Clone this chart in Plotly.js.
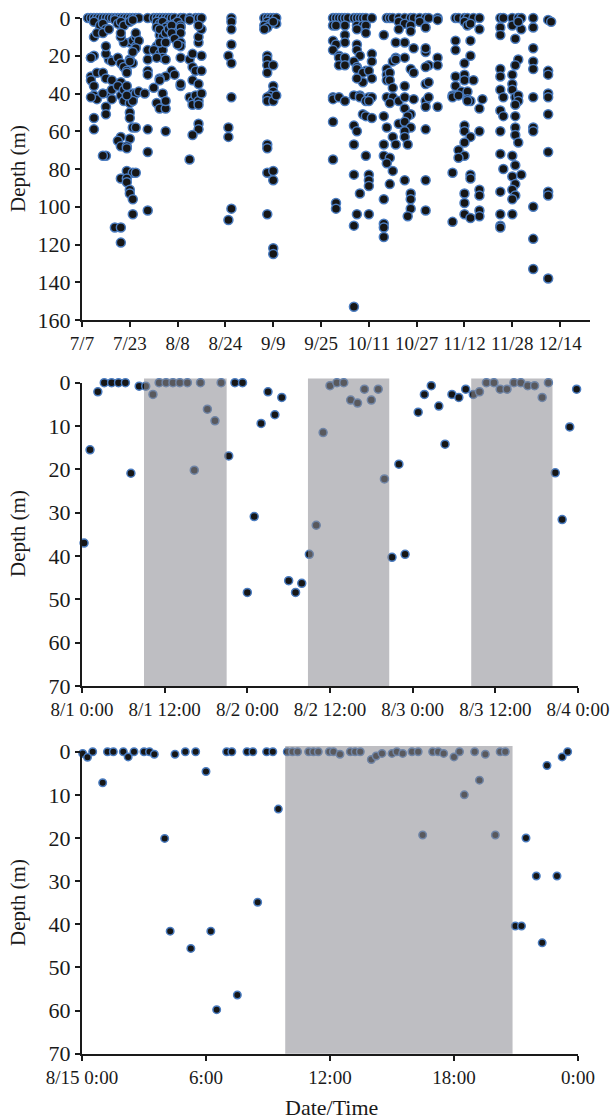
<!DOCTYPE html>
<html><head><meta charset="utf-8">
<script src="https://cdn.plot.ly/plotly-3.0.1.min.js"></script>
<style>html,body{margin:0;padding:0;background:#fff}#chart{width:610px;height:1120px}</style>
</head><body><div id="chart"></div>
<script>
const YEAR = '2013-';

// ---------- Panel 1: long-term depth record (dates MM-DD, depth m) ----------
const julDates = ['07-09','07-10','07-11','07-12','07-13','07-14','07-15','07-16','07-17','07-18','07-19','07-20','07-21','07-22','07-23','07-24','07-25','07-26','07-29',
 '07-11','07-13','07-14','07-15','07-18','07-19','07-20','07-21','07-23','07-24',
 '07-11','07-12','07-11','07-10','07-10','07-10','07-10','07-12','07-11','07-11','07-12','07-10','07-15','07-15','07-11','07-11','07-14','07-15','07-17','07-16','07-15','07-15','07-14','07-16','07-17','07-16','07-14','07-17','07-17','07-20','07-19','07-20','07-21','07-19','07-20','07-21','07-22','07-22','07-22','07-24','07-24','07-23','07-24','07-22','07-22','07-23','07-23','07-24','07-25','07-25','07-25','07-26','07-25','07-24','07-21','07-20','07-20','07-25','07-26','07-28','07-29','07-29','07-29','07-29','07-23','07-23','07-24','07-25','07-23','07-29','07-20','07-19','07-20','07-22','07-22','07-15','07-14','07-29','07-22','07-24','07-25','07-20','07-22','07-22','07-23','07-23','07-24','07-24','07-29','07-18','07-20','07-20','07-21','07-23','07-24','07-22'];
const julDepths = [0,0,0,0,0,0,0,0,0,0,0,0,0,0,0,0,0,0,0,
 2,4,3,6,1,3,2,4,2,1,
 10,8,20,21,21,31,33,29,36,41,43,42,47,51,53,59,29,32,33,22,19,15,8,6,23,40,40,43,38,34,21,24,26,36,41,38,42,36,43,40,43,22,24,28,29,23,13,12,10,15,8,12,16,18,13,10,8,40,39,40,17,22,28,30,50,53,58,58,64,59,63,65,68,68,69,73,73,71,81,82,82,85,85,87,91,93,96,104,102,111,111,119,44,45,44,41];

const augDates = ['07-31','08-01','08-02','08-03','08-04','08-05','08-06','08-07','08-09','08-10','08-12','08-14','08-15','08-16',
 '08-01','08-02','08-03','08-05','08-07','08-08','08-04','08-09',
 '08-01','08-02','08-02','08-03','08-04','08-05','08-06','08-07','08-09','08-09','08-01','07-31','08-02','08-03','08-03','08-04','08-01','08-02','08-04','08-06','08-07','08-09','08-09','08-08','08-06','08-07','08-04','08-02','08-02','07-31','08-03','08-01','08-02','08-04','08-04','08-09','08-09','08-09','08-04',
 '08-12','08-13','08-13','08-13','08-14','08-16','08-15','08-16','08-15','08-15','08-16','08-15','08-12','08-12','08-13','08-13','08-14','08-15','08-16','08-15','08-15','08-15','08-13','08-12'];
const augDepths = [0,0,0,0,0,0,0,0,0,0,0,0,0,0,
 2,3,2,4,3,2,5,4,
 5,9,6,10,8,6,4,8,5,8,15,17,19,17,21,22,21,13,13,8,11,13,15,14,28,30,31,32,33,37,40,45,48,48,44,36,35,21,60,
 22,19,26,33,28,28,35,20,13,10,6,4,1,42,44,46,41,44,40,46,56,59,62,75];

const sepDates = ['08-26','08-26','08-26','08-26','08-25','08-26','08-26','08-25','08-25','08-25','08-26',
 '09-06','09-07','09-08','09-09','09-10','09-07','09-08','09-06','09-07','09-10','09-09','09-06','09-07','09-07','09-07','09-09','09-07','09-09','09-09','09-08','09-07','09-07','09-09','09-10','09-07','09-07','09-07','09-09','09-09','09-07','09-09','09-09'];
const sepDepths = [0,2,6,14,20,24,42,58,63,107,101,
 0,0,0,0,0,2,3,4,5,3,2,6,20,22,25,25,29,36,39,41,42,44,44,41,67,69,82,81,86,104,122,125];

const octDates = ['09-29','09-30','10-01','10-02','10-03','10-04','10-06','10-07','10-08','10-09','10-10','10-12',
 '09-29','09-30','10-03','10-07','10-09','10-10','10-07','10-10','10-03','10-03','09-29','09-30','09-29','10-07','10-07','10-08','10-12','10-12','10-01','10-01','10-03','10-01','10-03','10-06','10-07','10-07','10-10','10-09','10-11','10-12','10-09','10-07','09-29','09-29','10-01','10-03','10-06','10-08','10-08','10-11','10-10','10-12','10-11','10-09','10-10','10-12','10-06','10-07','09-29','10-10','10-06','09-29','10-06','10-11',
 '09-30','09-30','10-06','10-07','10-06','10-08','10-11','10-11','10-11',
 '10-17','10-18','10-19','10-21','10-23','10-25','10-26','10-28','10-30','10-31','11-03',
 '10-21','10-23','10-25','10-28','10-30','11-03','10-21','10-25',
 '10-16','10-20','10-23','10-26','10-30','10-30','11-03','11-03','10-31','10-30','10-20','10-19','10-20','10-23','10-17','10-17','10-17','10-18','10-18','10-25','10-26','10-30','10-31','10-23','10-19','10-17','10-19','10-18','10-21','10-23','10-26','10-30','10-31','10-30','10-23','10-25','10-24','10-16','10-21','10-23','10-17','10-25','10-23','10-30','10-19','10-23','10-16','10-20','10-24','10-16','10-18','10-17','10-19','11-03',
 '10-16','10-18','10-16','10-16','10-16','10-23','10-25','10-25','10-25','10-24','10-30','10-30'];
const octDepths = [0,0,0,0,0,0,0,0,0,0,0,0,
 4,4,4,4,4,4,6,8,9,13,12,14,17,14,17,20,19,23,20,21,21,25,25,23,26,27,28,29,28,32,34,32,42,43,42,44,41,41,42,42,44,42,44,51,52,53,57,60,55,73,67,75,83,83,
 98,101,110,104,153,93,86,89,104,
 0,0,0,0,0,0,0,0,0,0,0,
 2,3,4,2,5,1,6,7,
 9,13,13,16,18,16,21,25,25,26,21,23,22,21,27,30,33,29,33,27,29,35,34,36,37,42,42,45,44,42,43,44,42,47,48,51,52,52,56,55,58,58,60,59,63,63,67,67,67,73,74,77,81,47,
 96,88,109,111,116,86,93,96,101,105,86,102];

const novDates = ['11-09','11-10','11-12','11-13','11-15','11-17',
 '11-12','11-13','11-17','11-14',
 '11-09','11-14','11-09','11-14','11-12','11-09','11-12','11-12','11-15','11-09','11-08','11-11','11-13','11-08','11-10','11-13','11-14','11-13','11-18','11-17','11-12','11-12','11-17','11-14','11-12','11-10','11-12','11-10','11-08','11-14',
 '11-08','11-12','11-12','11-12','11-14','11-14','11-17','11-17','11-17','11-17',
 '11-24','11-25','11-28','11-30','12-01','12-05',
 '11-24','11-28','12-01','12-05','11-30',
 '11-24','11-29','12-05','12-05','12-05','11-30','11-29','11-24','11-24','11-28','11-28','11-24','11-28','11-29','11-30','11-30','11-29','11-25','12-05','12-10','12-10','12-10','12-10','12-10','12-11','11-24','11-25','11-29','11-29','11-24','11-29','12-05','12-05','11-30','12-10','11-24','11-28','12-10','11-25','11-29','11-28','12-01',
 '11-24','11-24','11-24','11-24','11-29','11-28','11-29','11-28','11-28','12-05','12-05','12-05','12-10','12-10','12-10'];
const novDepths = [0,0,0,0,0,0,
 2,4,6,3,
 12,12,17,20,24,31,30,33,33,36,41,39,39,42,41,43,44,44,43,48,57,60,60,63,66,70,73,74,82,83,
 108,93,98,104,85,106,91,94,102,105,
 0,0,0,0,0,0,
 5,4,6,5,2,
 9,11,16,23,27,22,25,27,31,30,35,38,38,42,41,44,46,42,42,40,42,28,30,1,2,49,52,52,58,60,62,58,60,66,51,72,73,71,80,78,84,83,
 92,104,110,111,88,91,94,96,104,100,117,133,92,94,138];

// ---------- Panel 2: 1-4 August (time, depth m) ----------
const p2Times = ['08-01 00:18','08-01 01:10','08-01 02:18','08-01 03:14','08-01 04:18','08-01 05:18','08-01 06:18','08-01 07:06','08-01 08:18','08-01 09:15','08-01 10:18','08-01 11:12','08-01 12:12','08-01 13:12','08-01 14:12','08-01 15:18','08-01 16:18','08-01 17:12','08-01 18:12','08-01 19:18','08-01 20:12','08-01 21:18','08-01 22:12','08-01 23:18',
 '08-02 00:00','08-02 01:00','08-02 02:00','08-02 03:00','08-02 04:00','08-02 05:00','08-02 06:00','08-02 07:00','08-02 07:54','08-02 09:00','08-02 10:00','08-02 11:00','08-02 12:00','08-02 13:00','08-02 14:00','08-02 15:00','08-02 16:00','08-02 17:00','08-02 18:00','08-02 19:00','08-02 19:54','08-02 21:00','08-02 22:00','08-02 22:54',
 '08-03 00:48','08-03 01:42','08-03 02:42','08-03 03:48','08-03 04:42','08-03 05:42','08-03 06:42','08-03 07:42','08-03 08:48','08-03 09:42','08-03 10:42','08-03 11:48','08-03 12:42','08-03 13:42','08-03 14:42','08-03 15:42','08-03 16:42','08-03 17:42','08-03 18:48','08-03 19:42','08-03 20:42','08-03 21:42','08-03 22:48','08-03 23:48'];
const p2Depths = [37,15.5,2.1,0,0,0,0,20.9,0.8,0.8,2.7,0,0,0,0,0,20.2,0,6.1,8.8,0,16.9,0,0,
 48.4,30.9,9.4,2.1,7.4,3.4,45.7,48.4,46.3,39.6,32.9,11.5,0.7,0,0,4.0,4.7,1.5,4.0,1.5,22.2,40.3,18.8,39.6,
 6.8,2.7,0.7,5.4,14.2,2.7,3.4,1.5,2.7,2.1,0,0,1.5,1.5,0,0,0.7,0.7,3.4,0,20.8,31.6,10.2,1.5];
const p2NightStart = ['08-01 09:00','08-02 08:48','08-03 08:30'];
const p2NightEnd   = ['08-01 21:00','08-02 20:36','08-03 20:18'];
const p2TickVals = ['08-01 00:00','08-01 12:00','08-02 00:00','08-02 12:00','08-03 00:00','08-03 12:00','08-04 00:00'];
const p2TickText = ['8/1 0:00','8/1 12:00','8/2 0:00','8/2 12:00','8/3 0:00','8/3 12:00','8/4 0:00'];

// ---------- Panel 3: 15 August (time, depth m) ----------
const p3Times = ['00:02','00:16','00:31','01:00','01:14','01:31','02:00','02:14','02:31','03:00','03:16','03:30','04:00','04:16','04:30','05:00','05:16','05:30','06:00','06:14','06:31','07:00','07:15','07:31','07:59','08:16','08:30','08:56','09:14','09:30',
 '09:56','10:11','10:26','10:58','11:12','11:26','11:58','12:10','12:29','12:59','13:13','13:28','14:00','14:14','14:31','15:00','15:14','15:31','15:58','16:16','16:29','16:58','17:14','17:30','18:00','18:16','18:30','19:00','19:14','19:31','20:00','20:14','20:29',
 '20:58','21:16','21:29','21:59','22:16','22:30','22:59','23:14','23:30'];
const p3Depths = [0.4,1.3,0,7.2,0,0,0,1.2,0,0,0,0.6,20.1,41.6,0.6,0,45.6,0,4.6,41.6,59.8,0,0,56.4,0,0,34.9,0,0,13.3,
 0,0,0,0,0,0,0,0,0.6,0,0,0,1.8,1.0,0.4,0.4,0,0.4,0,0,19.3,0,0,0.4,1.2,0,10.0,0,6.6,0.6,19.3,0,0,
 40.4,40.4,20.0,28.8,44.3,3.2,28.8,1.2,0];
const p3NightStart = ['09:50'];
const p3NightEnd   = ['20:50'];
const p3TickVals = ['08-15 00:00','08-15 06:00','08-15 12:00','08-15 18:00','08-16 00:00'];
const p3TickText = ['8/15 0:00','6:00','12:00','18:00','0:00'];

// ---------- build ----------
const p1x = [].concat(julDates, augDates, sepDates, octDates, novDates).map(d => YEAR + d);
const p1y = [].concat(julDepths, augDepths, sepDepths, octDepths, novDepths);
const p1Ticks = ['07-07','07-23','08-08','08-24','09-09','09-25','10-11','10-27','11-12','11-28','12-14'].map(d => YEAR + d);

const FONT = 'Liberation Serif, "Times New Roman", serif';
const INK = '#1a1a1a';
const mk = (s) => ({size: s, color: '#161616', line: {color: '#4a7cc0', width: 1.5}});

const traces = [
  {x: p1x, y: p1y, type: 'scatter', mode: 'markers', marker: mk(9), xaxis: 'x', yaxis: 'y', cliponaxis: false, hoverinfo: 'skip'},
  {x: p2Times.map(t => YEAR + t), y: p2Depths, type: 'scatter', mode: 'markers', marker: mk(8), xaxis: 'x2', yaxis: 'y2', cliponaxis: false, hoverinfo: 'skip'},
  {x: p3Times.map(t => YEAR + '08-15 ' + t), y: p3Depths, type: 'scatter', mode: 'markers', marker: mk(7.5), xaxis: 'x3', yaxis: 'y3', cliponaxis: false, hoverinfo: 'skip'}
];

const ax = {showline: true, linecolor: INK, linewidth: 2, ticks: 'outside', ticklen: 5, tickwidth: 2, tickcolor: INK,
  showgrid: false, zeroline: false, tickfont: {family: FONT, size: 19, color: INK}, fixedrange: true};
const yax = Object.assign({}, ax, {tickfont: {family: FONT, size: 22, color: INK}});

const W = 610, H = 1120;
const px = v => v / W, py = v => 1 - v / H;

const shapes = [];
p2NightStart.forEach((s, i) => shapes.push({type: 'rect', layer: 'above', xref: 'x2', yref: 'paper',
  x0: YEAR + s, x1: YEAR + p2NightEnd[i], y0: py(686), y1: py(378.4),
  fillcolor: 'rgba(140,141,147,0.57)', line: {width: 0}}));
p3NightStart.forEach((s, i) => shapes.push({type: 'rect', layer: 'above', xref: 'x3', yref: 'paper',
  x0: YEAR + '08-15 ' + s, x1: YEAR + '08-15 ' + p3NightEnd[i], y0: py(1053.7), y1: py(746.1),
  fillcolor: 'rgba(140,141,147,0.57)', line: {width: 0}}));

const titleFont = {family: FONT, size: 21, color: INK};
const layout = {
  width: W, height: H, margin: {l: 0, r: 0, t: 0, b: 0},
  paper_bgcolor: '#fff', plot_bgcolor: 'rgba(0,0,0,0)', showlegend: false,
  font: {family: FONT, color: INK},
  xaxis: Object.assign({}, ax, {type: 'date', domain: [px(82), px(590)], anchor: 'y',
    range: [YEAR + '07-07', YEAR + '12-24'], tickmode: 'array', tickvals: p1Ticks, tickformat: '%-m/%-d'}),
  yaxis: Object.assign({}, yax, {domain: [py(320), py(18)], anchor: 'x', range: [160, 0], tickmode: 'linear', tick0: 0, dtick: 20}),
  xaxis2: Object.assign({}, ax, {type: 'date', domain: [px(82), px(578)], anchor: 'y2',
    range: [YEAR + '08-01 00:00', YEAR + '08-04 00:00'], tickmode: 'array',
    tickvals: p2TickVals.map(t => YEAR + t), ticktext: p2TickText}),
  yaxis2: Object.assign({}, yax, {domain: [py(686), py(382.7)], anchor: 'x2', range: [70, 0], tickmode: 'linear', tick0: 0, dtick: 10}),
  xaxis3: Object.assign({}, ax, {type: 'date', domain: [px(82), px(578)], anchor: 'y3',
    range: [YEAR + '08-15 00:00', YEAR + '08-16 00:00'], tickmode: 'array',
    tickvals: p3TickVals.map(t => YEAR + t), ticktext: p3TickText}),
  yaxis3: Object.assign({}, yax, {domain: [py(1053.7), py(751.7)], anchor: 'x3', range: [70, 0], tickmode: 'linear', tick0: 0, dtick: 10}),
  shapes: shapes,
  annotations: [
    {text: 'Depth (m)', xref: 'paper', yref: 'paper', x: px(18), y: py(169), xanchor: 'center', yanchor: 'middle', textangle: -90, showarrow: false, font: titleFont},
    {text: 'Depth (m)', xref: 'paper', yref: 'paper', x: px(18), y: py(534), xanchor: 'center', yanchor: 'middle', textangle: -90, showarrow: false, font: titleFont},
    {text: 'Depth (m)', xref: 'paper', yref: 'paper', x: px(18), y: py(903), xanchor: 'center', yanchor: 'middle', textangle: -90, showarrow: false, font: titleFont},
    {text: 'Date/Time', xref: 'paper', yref: 'paper', x: px(331), y: py(1107), xanchor: 'center', yanchor: 'middle', showarrow: false, font: {family: FONT, size: 22, color: INK}}
  ]
};

Plotly.newPlot('chart', traces, layout, {staticPlot: true, displayModeBar: false});
</script>
</body></html>
